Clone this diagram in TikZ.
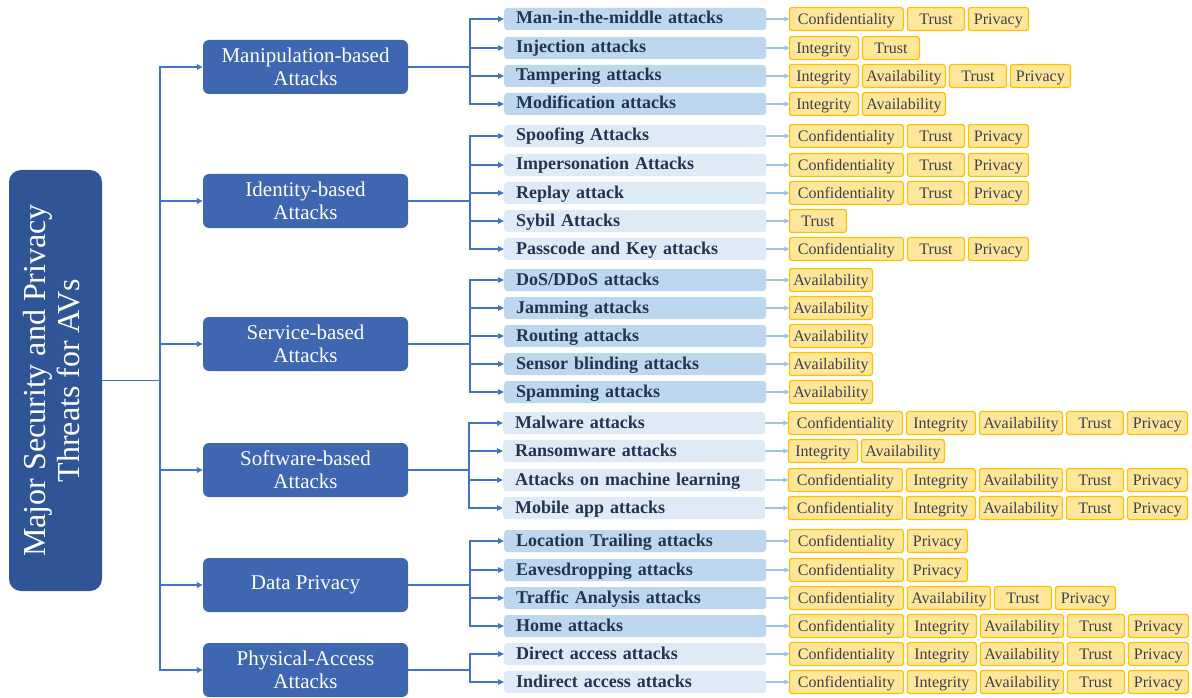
\documentclass[tikz,border=0pt]{standalone}
\usepackage{fontspec}
\setmainfont{Liberation Serif}
\usetikzlibrary{arrows.meta}
\definecolor{rootblue}{HTML}{2F5597}
\definecolor{catblue}{HTML}{3F67B1}
\definecolor{linkblue}{HTML}{4472C4}
\definecolor{atkdark}{HTML}{BDD7EE}
\definecolor{atklight}{HTML}{DEEBF7}
\definecolor{atktext}{HTML}{243352}
\definecolor{lightlink}{HTML}{9DC3E6}
\definecolor{tagfill}{HTML}{FFE699}
\definecolor{tagedge}{HTML}{FFC000}
\definecolor{tagtext}{HTML}{3D4050}
\def\tnC{Confidentiality}\def\tnI{Integrity}\def\tnA{Availability}\def\tnT{Trust}\def\tnP{Privacy}
\tikzset{
  link/.style={draw=linkblue, line width=1.5pt, -{Triangle[length=6pt,width=5.5pt]}},
  tagarrow/.style={draw=lightlink, line width=1.3pt, -{Triangle[length=5pt,width=4.5pt]}},
  tagbox/.style={draw=tagedge, fill=tagfill, line width=1.2pt, rounded corners=2.5pt,
    minimum height=23pt, inner sep=0pt, outer sep=0pt, text height=13pt, text depth=2pt,
    text=tagtext, font=\fontsize{16}{18}\selectfont},
  tagwC/.style={minimum width=114pt}, tagwI/.style={minimum width=69pt},
  tagwA/.style={minimum width=83pt}, tagwT/.style={minimum width=57pt},
  tagwP/.style={minimum width=60pt},
  atk/.style={anchor=west, minimum height=22pt, text width=238pt, inner xsep=12pt, inner ysep=0pt,
    text height=14pt, text depth=4pt,
    align=left, rounded corners=3pt, text=atktext, font=\bfseries\fontsize{18}{20}\selectfont},
  atkD/.style={atk, fill=atkdark}, atkL/.style={atk, fill=atklight},
  cat/.style={fill=catblue, rounded corners=6pt, minimum width=205pt, minimum height=54pt,
    text=white, align=center, inner sep=0pt, font=\fontsize{21}{23}\selectfont},
}
\newcommand\tagrow[2]{%
  \node[inner sep=0pt, outer sep=0pt, minimum size=0pt] (#1-t0) at ([xshift=19pt]#1.east) {};
  \foreach \tg [count=\i, remember=\i as \j (initially 0)] in {#2}{
    \node[tagbox, tagw\tg, anchor=west] (#1-t\i) at ([xshift=4pt]#1-t\j.east) {\csname tn\tg\endcsname};
  }
  \draw[tagarrow] (#1.east) -- (#1-t1.west);
}
\begin{document}
\begin{tikzpicture}[x=1pt, y=-1pt]
\useasboundingbox (0,0) rectangle (1192,698);
% root
\node[fill=rootblue, rounded corners=12pt, minimum width=93pt, minimum height=421pt, inner sep=0pt, text=white] (root) at (55.5,380.5)
  {\rotatebox{90}{\fontsize{32}{34}\selectfont\begin{tabular}{@{}c@{}}Major Security and Privacy\\Threats for AVs\end{tabular}}};
% categories
\node[cat] (manip) at (305.5,67) {Manipulation-based\\Attacks};
\node[cat] (ident) at (305.5,201) {Identity-based\\Attacks};
\node[cat] (serv) at (305.5,344) {Service-based\\Attacks};
\node[cat] (soft) at (305.5,470) {Software-based\\Attacks};
\node[cat] (datap) at (305.5,585) {Data Privacy};
\node[cat] (phys) at (305.5,670) {Physical-Access\\Attacks};
\foreach \c in {manip,ident,serv,soft,datap,phys}
  \draw[link] (root.east) -- ++(58,0) |- (\c.west);
% attacks
\node[atkD] (mitm) at (504,19) {Man-in-the-middle attacks};
\node[atkD] (inj) at (504,48) {Injection attacks};
\node[atkD] (tamp) at (504,76) {Tampering attacks};
\node[atkD] (modi) at (504,104) {Modification attacks};
\node[atkL] (spoof) at (504,136) {Spoofing Attacks};
\node[atkL] (imper) at (504,165) {Impersonation Attacks};
\node[atkL] (replay) at (504,193) {Replay attack};
\node[atkL] (sybil) at (504,221) {Sybil Attacks};
\node[atkL] (pass) at (504,249) {Passcode and Key attacks};
\node[atkD] (dos) at (504,280) {DoS/DDoS attacks};
\node[atkD] (jam) at (504,308) {Jamming attacks};
\node[atkD] (rout) at (504,336) {Routing attacks};
\node[atkD] (sens) at (504,364) {Sensor blinding attacks};
\node[atkD] (spam) at (504,392) {Spamming attacks};
\node[atkL] (mal) at (503,423) {Malware attacks};
\node[atkL] (rans) at (503,451) {Ransomware attacks};
\node[atkL] (ml) at (503,480) {Attacks on machine learning};
\node[atkL] (mob) at (503,508) {Mobile app attacks};
\node[atkD] (loc) at (504,541) {Location Trailing attacks};
\node[atkD] (eave) at (504,570) {Eavesdropping attacks};
\node[atkD] (traf) at (504,598) {Traffic Analysis attacks};
\node[atkD] (home) at (504,626) {Home attacks};
\node[atkL] (dir) at (504,654) {Direct access attacks};
\node[atkL] (indir) at (504,682) {Indirect access attacks};
\foreach \c in {mitm,inj,tamp,modi} \draw[link] (manip.east) -- ++(62,0) |- (\c.west);
\foreach \c in {spoof,imper,replay,sybil,pass} \draw[link] (ident.east) -- ++(62,0) |- (\c.west);
\foreach \c in {dos,jam,rout,sens,spam} \draw[link] (serv.east) -- ++(62,0) |- (\c.west);
\foreach \c in {mal,rans,ml,mob} \draw[link] (soft.east) -- ++(61,0) |- (\c.west);
\foreach \c in {loc,eave,traf,home} \draw[link] (datap.east) -- ++(62,0) |- (\c.west);
\foreach \c in {dir,indir} \draw[link] (phys.east) -- ++(62,0) |- (\c.west);
% tags
\tagrow{mitm}{C,T,P}
\tagrow{inj}{I,T}
\tagrow{tamp}{I,A,T,P}
\tagrow{modi}{I,A}
\tagrow{spoof}{C,T,P}
\tagrow{imper}{C,T,P}
\tagrow{replay}{C,T,P}
\tagrow{sybil}{T}
\tagrow{pass}{C,T,P}
\tagrow{dos}{A}
\tagrow{jam}{A}
\tagrow{rout}{A}
\tagrow{sens}{A}
\tagrow{spam}{A}
\tagrow{mal}{C,I,A,T,P}
\tagrow{rans}{I,A}
\tagrow{ml}{C,I,A,T,P}
\tagrow{mob}{C,I,A,T,P}
\tagrow{loc}{C,P}
\tagrow{eave}{C,P}
\tagrow{traf}{C,A,T,P}
\tagrow{home}{C,I,A,T,P}
\tagrow{dir}{C,I,A,T,P}
\tagrow{indir}{C,I,A,T,P}
\end{tikzpicture}
\end{document}
